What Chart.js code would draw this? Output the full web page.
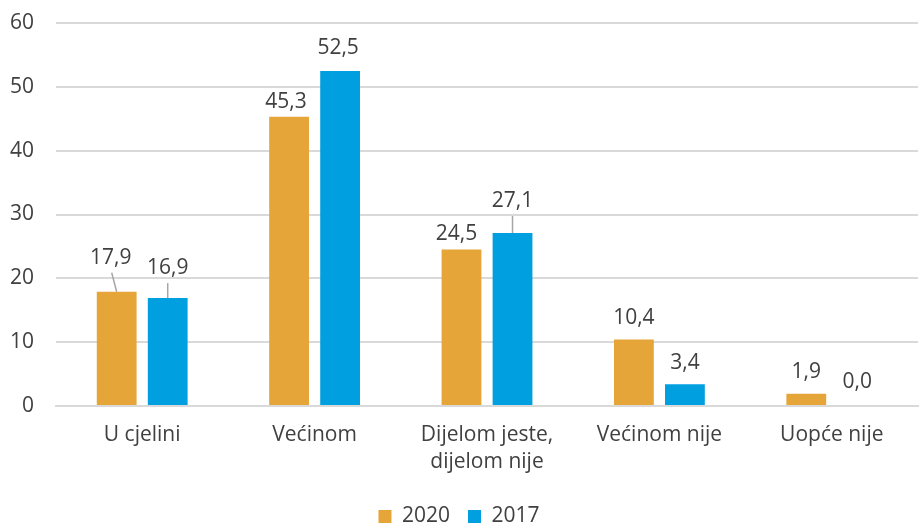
<!DOCTYPE html>
<html><head><meta charset="utf-8">
<script src="https://cdn.jsdelivr.net/npm/chart.js@4/dist/chart.umd.min.js"></script>
<style>html,body{margin:0;padding:0;background:#fff}#wrap{width:921px;height:525px}</style>
</head><body><div id="wrap"><canvas id="c" width="921" height="525"></canvas></div>
<script>
const categories = ["U cjelini", "Većinom", ["Dijelom jeste,", "dijelom nije"], "Većinom nije", "Uopće nije"];
const seriesNames = ["2020", "2017"];
const values2020 = [17.9, 45.3, 24.5, 10.4, 1.9];
const values2017 = [16.9, 52.5, 27.1, 3.4, 0.0];
const yMin = 0, yMax = 60, yStep = 10;

// label styling: lift above bar top (px), horizontal shift (px), leader line flag
const lift2020 = [28, 9, 10, 16, 16];
const lift2017 = [24, 17, 26, 15, 18];
const shift2020 = [-6, -3, -5, 0, 0];
const shift2017 = [0, -2, 0, 0, 0];
const leader2020 = [true, false, false, false, false];
const leader2017 = [true, false, true, false, false];

const FONT = "'Open Sans', 'Noto Sans', sans-serif";
const FS = 21;
const TXT = '#404040';

const labelPlugin = {
  id: 'labels',
  afterDatasetsDraw(chart) {
    const ctx = chart.ctx;
    const lifts = [lift2020, lift2017], shifts = [shift2020, shift2017], leaders = [leader2020, leader2017];
    ctx.save();
    ctx.font = FS + "px " + FONT;
    ctx.fillStyle = TXT;
    ctx.textAlign = 'center';
    ctx.textBaseline = 'alphabetic';
    chart.data.datasets.forEach((ds, di) => {
      const meta = chart.getDatasetMeta(di);
      meta.data.forEach((bar, i) => {
        const v = ds.data[i];
        const txt = v.toFixed(1).replace('.', ',');
        const tx = bar.x + shifts[di][i];
        const ty = bar.y - lifts[di][i];
        ctx.fillText(txt, tx, ty);
        if (leaders[di][i]) {
          ctx.strokeStyle = '#a6a6a6';
          ctx.lineWidth = 1.5;
          ctx.beginPath();
          ctx.moveTo(shifts[di][i] ? tx + 1 : bar.x, ty + 9);
          ctx.lineTo(bar.x, bar.y);
          ctx.stroke();
        }
      });
    });
    ctx.restore();
  }
};

new Chart(document.getElementById('c'), {
  type: 'bar',
  data: {
    labels: categories,
    datasets: [
      { label: seriesNames[0], data: values2020, backgroundColor: '#E6A538' },
      { label: seriesNames[1], data: values2017, backgroundColor: '#00A0E0' }
    ]
  },
  options: {
    responsive: false,
    animation: false,
    devicePixelRatio: 1,
    categoryPercentage: 0.592,
    barPercentage: 0.78,
    layout: { padding: { top: 23, right: 3, bottom: -12, left: 0 } },
    scales: {
      x: {
        afterFit(scale) { scale.height = 82; },
        grid: { display: false },
        border: { display: true, color: '#d9d9d9', width: 2 },
        ticks: { color: TXT, font: { family: FONT, size: FS, lineHeight: 1.3 }, padding: 7, maxRotation: 0, autoSkip: false }
      },
      y: {
        min: yMin, max: yMax,
        afterFit(scale) { scale.width = 56; },
        grid: { color: '#d9d9d9', lineWidth: 2, drawTicks: true, tickLength: 20, tickColor: 'rgba(0,0,0,0)' },
        border: { display: false },
        ticks: { stepSize: yStep, color: TXT, font: { family: FONT, size: FS }, padding: 2 }
      }
    },
    plugins: {
      legend: {
        position: 'bottom',
        labels: { boxWidth: 13, boxHeight: 13, color: TXT, font: { family: FONT, size: FS }, padding: 18 }
      },
      tooltip: { enabled: false }
    }
  },
  plugins: [labelPlugin]
});
</script></body></html>
